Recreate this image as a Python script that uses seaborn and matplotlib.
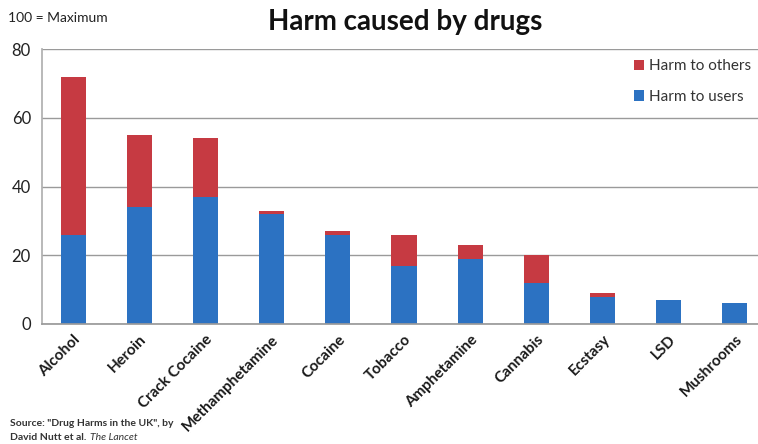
import matplotlib
matplotlib.use("Agg")
import matplotlib.pyplot as plt
import matplotlib.transforms as mtransforms
import seaborn as sns
import pandas as pd

drugs = ["Alcohol", "Heroin", "Crack Cocaine", "Methamphetamine", "Cocaine", "Tobacco",
         "Amphetamine", "Cannabis", "Ecstasy", "LSD", "Mushrooms"]
harm_users = [26, 34, 37, 32, 26, 17, 19, 12, 8, 7, 6]
harm_others = [46, 21, 17, 1, 1, 9, 4, 8, 1, 0, 0]
y_ticks = [0, 20, 40, 60, 80]

RED = "#C63A42"
BLUE = "#2C72C2"

sns.set_theme(style="white")
plt.rcParams["font.family"] = ["Lato", "DejaVu Sans"]

df = pd.DataFrame({"drug": drugs, "users": harm_users, "others": harm_others})
df["total"] = df["users"] + df["others"]

fig = plt.figure(figsize=(7.58, 4.44), dpi=100)
ax = fig.add_axes([42 / 758, 1 - 324 / 444, 1 - 42 / 758, (324 - 49) / 444])

sns.barplot(data=df, x="drug", y="total", color=RED, width=0.38, saturation=1,
            ax=ax, label="Harm to others", linewidth=0)
sns.barplot(data=df, x="drug", y="users", color=BLUE, width=0.38, saturation=1,
            ax=ax, label="Harm to users", linewidth=0)

ax.set_ylim(0, 80)
ax.set_xlim(-0.47, 10.35)
ax.set_yticks(y_ticks)
ax.set_yticklabels([str(v) for v in y_ticks], fontsize=12, color="#222222")
ax.yaxis.grid(True, color="#9a9a9a", linewidth=1.0)
ax.set_axisbelow(True)
for s in ["top", "right"]:
    ax.spines[s].set_visible(False)
ax.spines["left"].set_color("#b0b0b0")
ax.spines["bottom"].set_color("#9a9a9a")
ax.tick_params(axis="y", length=0, pad=8)
ax.set_xlabel("")
ax.set_ylabel("")

ax.set_xticks(range(len(drugs)))
offset = mtransforms.ScaledTranslation(22 / 100, 0, fig.dpi_scale_trans)
labels = ax.set_xticklabels(drugs, rotation=45, ha="right", rotation_mode="anchor",
                            fontsize=11, fontweight="bold", color="#1a1a1a")
for lab in labels:
    lab.set_transform(lab.get_transform() + offset)
ax.tick_params(axis="x", length=0, pad=6)

handles, labs = ax.get_legend_handles_labels()
leg = ax.legend(handles, labs, loc="upper right", bbox_to_anchor=(0.999, 0.985),
                frameon=False, fontsize=11, handlelength=0.7, handleheight=0.7,
                handletextpad=0.3, labelspacing=1.1, borderaxespad=0)
for t in leg.get_texts():
    t.set_color("#333333")

fig.text(405 / 758, 1 - 22 / 444, "Harm caused by drugs", ha="center", va="center",
         fontsize=20, fontweight="bold", color="#111111")
fig.text(8 / 758, 1 - 18 / 444, "100 = Maximum", ha="left", va="center",
         fontsize=10, color="#222222")
fig.text(10 / 758, 1 - 423 / 444, "Source: \"Drug Harms in the UK\", by",
         ha="left", va="center", fontsize=7.5, fontweight="bold", color="#333333")
fig.text(10 / 758, 1 - 437 / 444, "David Nutt et al.", ha="left", va="center",
         fontsize=7.5, fontweight="bold", color="#333333")
fig.text(90 / 758, 1 - 437 / 444, "The Lancet", ha="left", va="center",
         fontsize=7.5, fontstyle="italic", color="#333333")

fig.savefig("out.png", dpi=100)
